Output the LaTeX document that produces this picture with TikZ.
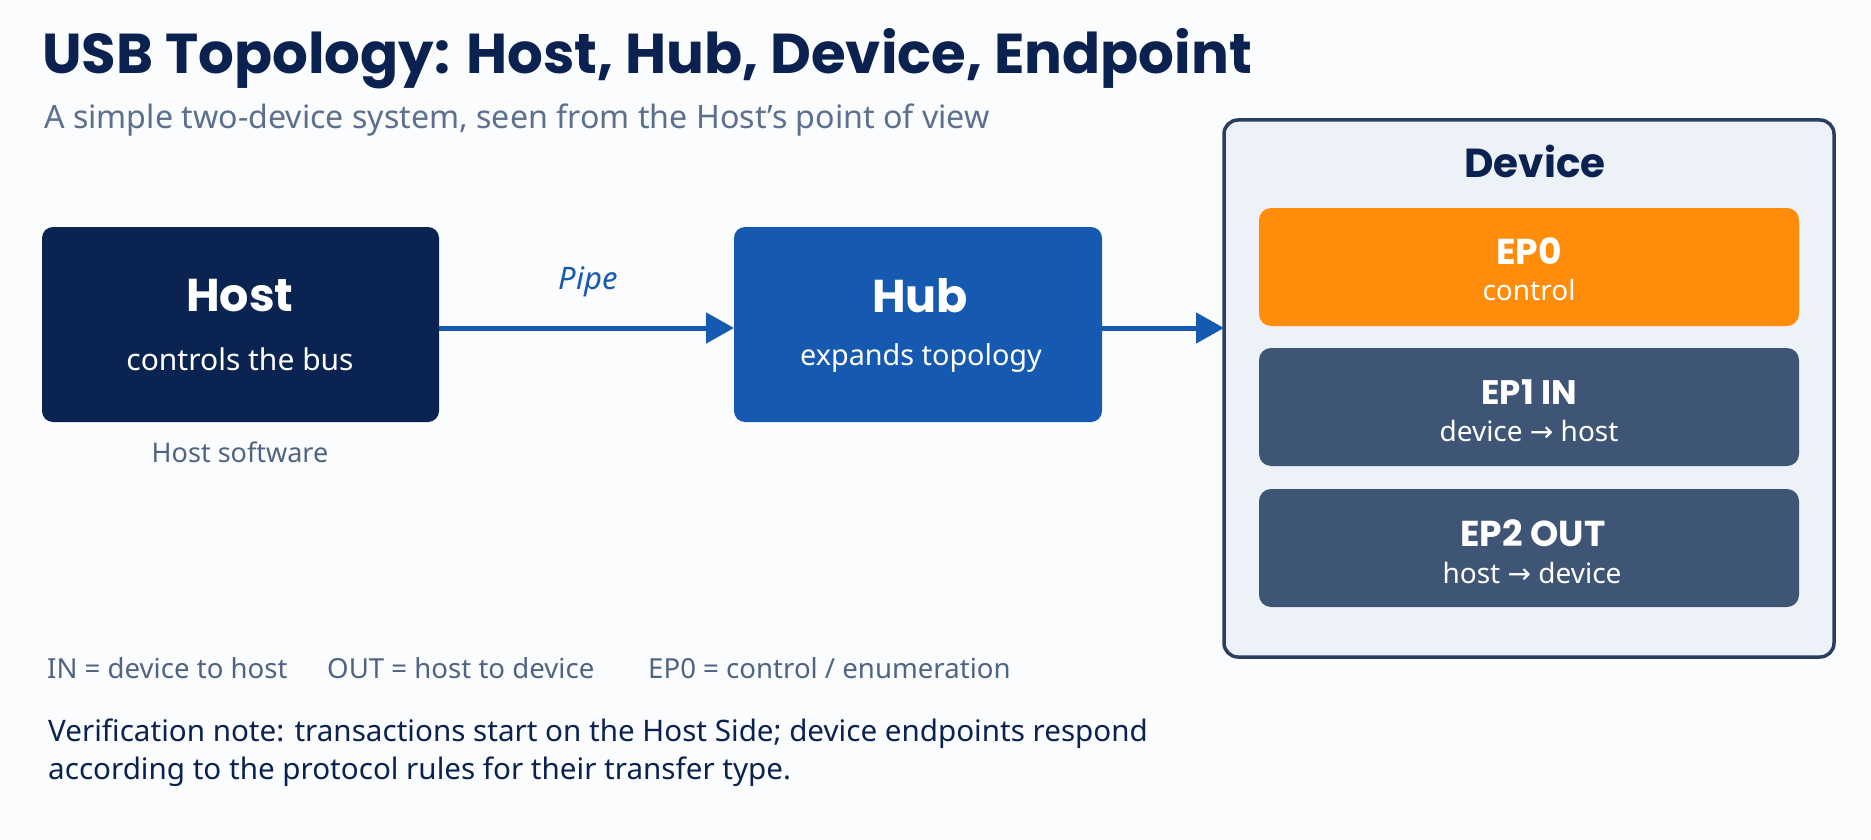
\documentclass[tikz,border=0pt]{standalone}
\usepackage{fontspec}
\setmainfont{Noto Sans}
\newfontfamily\bfam{Poppins}
\newfontfamily\arrowfont{DejaVu Sans}
\usetikzlibrary{arrows.meta}
\definecolor{navy}{HTML}{0B2250}
\definecolor{hostc}{HTML}{0A2350}
\definecolor{hubc}{HTML}{1659B1}
\definecolor{subc}{HTML}{5C6F8E}
\definecolor{legc}{HTML}{4F6383}
\definecolor{devfill}{HTML}{EDF1F8}
\definecolor{devline}{HTML}{2A3F60}
\definecolor{epo}{HTML}{FF8C0B}
\definecolor{epb}{HTML}{3F5576}
\definecolor{bg}{HTML}{FBFCFE}
\newcommand{\ar}{{\arrowfont\char"2192}}
\tikzset{
  eptitle/.style={font=\fontsize{36}{40}\bfam\bfseries, text=white},
  epsub/.style={font=\fontsize{28}{32}\selectfont, text=white},
  boxtitle/.style={text=white, font=\fontsize{46}{52}\bfam\bfseries},
  boxsub/.style={text=white, font=\fontsize{30}{34}\selectfont},
  legend/.style={anchor=west, inner sep=0pt, text=legc, font=\fontsize{27.6}{32}\selectfont},
  note/.style={anchor=west, inner sep=0pt, text=navy, font=\fontsize{29.6}{34}\selectfont},
  conn/.style={hubc, line width=5pt, -{Triangle[length=28pt,width=30pt]}},
}
\begin{document}
\begin{tikzpicture}[x=1pt,y=-1pt]
\fill[bg] (0,0) rectangle (1871,840);
\useasboundingbox (0,0) rectangle (1871,840);
% title
\node[anchor=base west, inner sep=0pt, text=navy, font=\fontsize{56.2}{60}\bfam\bfseries] (title) at (42,74) {USB Topology: Host, Hub, Device, Endpoint};
\node[anchor=base west, inner sep=0pt, text=subc, font=\fontsize{32.2}{36}\selectfont] (subtitle) at (44,129) {A simple two-device system, seen from the Host's point of view};
% host
\path[fill=hostc, rounded corners=11pt] (42,227) rectangle (439,422);
\node[inner sep=0pt, minimum width=397pt, minimum height=195pt] (host) at (240.5,324.5) {};
\node[boxtitle] (hostt) at (240,296) {Host};
\node[boxsub] (hosts) at (240,359) {controls the bus};
\node[text=legc, font=\fontsize{27}{30}\selectfont] (hostsw) at (240,452) {Host software};
% hub
\path[fill=hubc, rounded corners=11pt] (734,227) rectangle (1102,422);
\node[inner sep=0pt, minimum width=368pt, minimum height=195pt] (hub) at (918,324.5) {};
\node[boxtitle] (hubt) at (920,296) {Hub};
\node[boxsub, font=\fontsize{28.8}{34}\selectfont] (hubs) at (921,358) {expands topology};
% device
\path[fill=devfill, draw=devline, line width=3.5pt, rounded corners=14pt] (1224,120) rectangle (1834,657);
\node[inner sep=0pt, minimum width=610pt, minimum height=537pt] (dev) at (1529,388.5) {};
\node[text=navy, font=\fontsize{40.5}{44}\bfam\bfseries] (devt) at (1535,161) {Device};
% endpoints
\path[fill=epo, rounded corners=12pt] (1259,208) rectangle (1799,326);
\node (ep0) at (1529,267) {};
\node[eptitle] (ep0t) at (1529,251) {EP0};
\node[epsub] (ep0s) at (1529,290) {control};
\path[fill=epb, rounded corners=12pt] (1259,348) rectangle (1799,466);
\node (ep1) at (1529,407) {};
\node[eptitle, font=\fontsize{34}{40}\bfam\bfseries] (ep1t) at (1529,392) {EP1 IN};
\node[epsub] (ep1s) at (1529,431) {device \ar{} host};
\path[fill=epb, rounded corners=12pt] (1259,489) rectangle (1799,607);
\node (ep2) at (1529,548) {};
\node[eptitle] (ep2t) at (1533,533) {EP2 OUT};
\node[epsub] (ep2s) at (1532,573) {host \ar{} device};
% arrows
\coordinate (a1) at (439,328);
\coordinate (a2) at (734,328);
\coordinate (a3) at (1102,328);
\coordinate (a4) at (1224,328);
\draw[conn] (a1) -- (a2);
\draw[conn] (a3) -- (a4);
\node[text=hubc, font=\fontsize{31}{34}\selectfont\itshape] (pipe) at (588,282) {Pipe};
% legend
\node[legend] (l1) at (47,668) {IN = device to host};
\node[legend] (l2) at (327,668) {OUT = host to device};
\node[legend] (l3) at (648,668) {EP0 = control / enumeration};
% note
\node[note] (n1) at (48,734) {Verification note: transactions start on the Host Side; device endpoints respond};
\node[note] (n2) at (48,772) {according to the protocol rules for their transfer type.};
\end{tikzpicture}
\end{document}
